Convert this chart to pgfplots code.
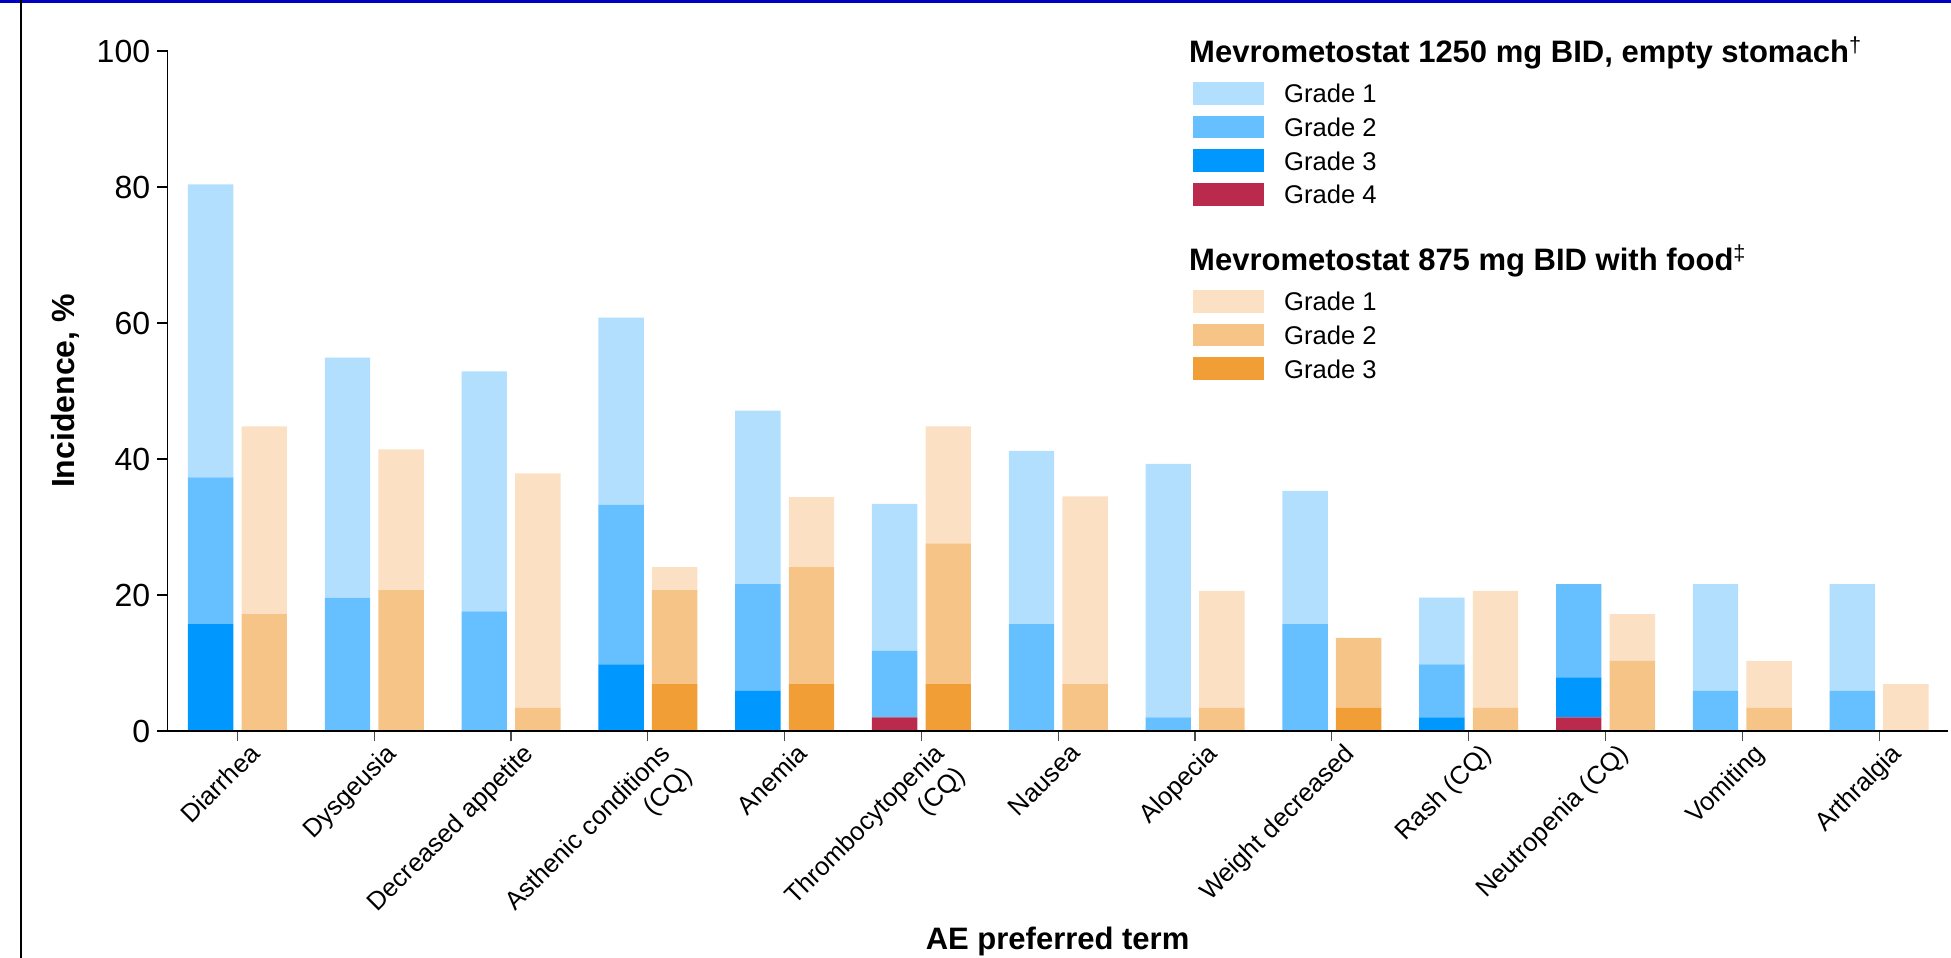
\documentclass[border=0pt]{standalone}
\usepackage{pgfplots}
\pgfplotsset{compat=1.18}
\usepackage{fontspec}
\setmainfont{Liberation Sans}

\definecolor{bA}{RGB}{179,223,255}
\definecolor{bB}{RGB}{102,191,255}
\definecolor{bC}{RGB}{0,151,255}
\definecolor{rD}{RGB}{186,42,77}
\definecolor{oA}{RGB}{251,224,196}
\definecolor{oB}{RGB}{247,196,135}
\definecolor{oC}{RGB}{242,158,54}
\definecolor{frameblue}{RGB}{0,0,190}

\newcommand{\myxl}{\fontsize{12.8}{15.2}\selectfont}
\newcommand{\mylg}{\fontsize{12.8}{15}\selectfont}
\newcommand{\mylt}{\fontsize{15.5}{18}\selectfont\bfseries}

\pgfplotsset{
  bluebar/.style={draw=none, bar width=22.7pt, bar shift=-13.4pt},
  orangebar/.style={draw=none, bar width=22.7pt, bar shift=13.4pt},
  base/.style={
    at={(83.85pt,113.5pt)}, anchor=south west,
    scale only axis, width=889.9pt, height=340pt,
    xmin=-0.51, xmax=12.5, ymin=0, ymax=100,
    ybar stacked,
  },
}

\tikzset{xlab/.style={rotate=45, anchor=north east, inner sep=0pt, align=right, font=\myxl}}

\begin{document}
\begin{tikzpicture}
% orange group (hidden axis)
\begin{axis}[base, hide axis]
\addplot[orangebar, fill=oC] coordinates {(0,0) (1,0) (2,0) (3,6.9) (4,6.9) (5,6.9) (6,0) (7,0) (8,3.4) (9,0) (10,0) (11,0) (12,0)};
\addplot[orangebar, fill=oB] coordinates {(0,17.2) (1,20.7) (2,3.4) (3,13.8) (4,17.2) (5,20.7) (6,6.9) (7,3.4) (8,10.3) (9,3.4) (10,10.3) (11,3.4) (12,0)};
\addplot[orangebar, fill=oA] coordinates {(0,27.6) (1,20.7) (2,34.5) (3,3.4) (4,10.3) (5,17.2) (6,27.6) (7,17.2) (8,0) (9,17.2) (10,6.9) (11,6.9) (12,6.9)};
\end{axis}
% blue group with axes
\begin{axis}[base,
  axis on top,
  axis lines=left,
  axis line style={-, line width=0.6pt, black},
  tick align=outside,
  major tick length=5.25pt,
  xtick={0,1,...,12},
  xticklabels={{},{},{},{},{},{},{},{},{},{},{},{},{}},
  ytick={0,20,40,60,80,100},
  xtick style={black!70, line width=0.6pt},
  ytick style={black, line width=0.6pt},
  /pgf/number format/assume math mode=true,
  yticklabel style={font=\fontsize{16}{19}\selectfont},
  xlabel={AE preferred term},
  ylabel={Incidence, \%},
  every axis x label/.style={at={(axis description cs:0.5,0)}, anchor=base, yshift=-109.5pt,
     font=\fontsize{15.5}{18}\selectfont\bfseries},
  every axis y label/.style={at={(axis description cs:-0.0523,0.5)}, rotate=90, anchor=base,
     font=\fontsize{16}{19}\selectfont\bfseries},
  clip=false]
\addplot[bluebar, fill=rD] coordinates {(0,0) (1,0) (2,0) (3,0) (4,0) (5,2.0) (6,0) (7,0) (8,0) (9,0) (10,2.0) (11,0) (12,0)};
\addplot[bluebar, fill=bC] coordinates {(0,15.7) (1,0) (2,0) (3,9.8) (4,5.9) (5,0) (6,0) (7,0) (8,0) (9,2.0) (10,5.9) (11,0) (12,0)};
\addplot[bluebar, fill=bB] coordinates {(0,21.6) (1,19.6) (2,17.6) (3,23.5) (4,15.7) (5,9.8) (6,15.7) (7,2.0) (8,15.7) (9,7.8) (10,13.7) (11,5.9) (12,5.9)};
\addplot[bluebar, fill=bA] coordinates {(0,43.1) (1,35.3) (2,35.3) (3,27.5) (4,25.5) (5,21.6) (6,25.5) (7,37.3) (8,19.6) (9,9.8) (10,0) (11,15.7) (12,15.7)};
% category labels
\path (axis cs:0,0) ++(5.3pt,-5.4pt) node[xlab] {\myxl Diarrhea};
\path (axis cs:1,0) ++(5.3pt,-5.4pt) node[xlab] {\myxl Dysgeusia};
\path (axis cs:2,0) ++(5.3pt,-5.4pt) node[xlab] {\myxl Decreased appetite};
\path (axis cs:3,0) ++(5.3pt,-5.4pt) node[xlab] {\myxl Asthenic conditions\\\myxl (CQ)};
\path (axis cs:4,0) ++(5.3pt,-5.4pt) node[xlab] {\myxl Anemia};
\path (axis cs:5,0) ++(5.3pt,-5.4pt) node[xlab] {\myxl Thrombocytopenia\\\myxl (CQ)};
\path (axis cs:6,0) ++(5.3pt,-5.4pt) node[xlab] {\myxl Nausea};
\path (axis cs:7,0) ++(5.3pt,-5.4pt) node[xlab] {\myxl Alopecia};
\path (axis cs:8,0) ++(5.3pt,-5.4pt) node[xlab] {\myxl Weight decreased};
\path (axis cs:9,0) ++(5.3pt,-5.4pt) node[xlab] {\myxl Rash (CQ)};
\path (axis cs:10,0) ++(5.3pt,-5.4pt) node[xlab] {\myxl Neutropenia (CQ)};
\path (axis cs:11,0) ++(5.3pt,-5.4pt) node[xlab] {\myxl Vomiting};
\path (axis cs:12,0) ++(5.3pt,-5.4pt) node[xlab] {\myxl Arthralgia};
\end{axis}
% legend: 1250 mg group
\node[anchor=base west, inner sep=0pt] at (594.4pt,447.65pt) {\mylt Mevrometostat 1250 mg BID, empty stomach\textsuperscript{\mdseries †}};
\fill[bA] (596.35pt,426.65pt) rectangle (632pt,438pt);
\fill[bB] (596.35pt,409.8pt) rectangle (632pt,421.15pt);
\fill[bC] (596.35pt,392.95pt) rectangle (632pt,404.3pt);
\fill[rD] (596.35pt,376.1pt) rectangle (632pt,387.45pt);
\node[anchor=base west, inner sep=0pt] at (641.9pt,427.65pt) {\mylg Grade 1};
\node[anchor=base west, inner sep=0pt] at (641.9pt,410.8pt) {\mylg Grade 2};
\node[anchor=base west, inner sep=0pt] at (641.9pt,393.95pt) {\mylg Grade 3};
\node[anchor=base west, inner sep=0pt] at (641.9pt,377.1pt) {\mylg Grade 4};
% legend: 875 mg group
\node[anchor=base west, inner sep=0pt] at (594.4pt,343.65pt) {\mylt Mevrometostat 875 mg BID with food\textsuperscript{\mdseries ‡}};
\fill[oA] (596.35pt,322.65pt) rectangle (632pt,334pt);
\fill[oB] (596.35pt,305.8pt) rectangle (632pt,317.15pt);
\fill[oC] (596.35pt,288.95pt) rectangle (632pt,300.3pt);
\node[anchor=base west, inner sep=0pt] at (641.9pt,323.65pt) {\mylg Grade 1};
\node[anchor=base west, inner sep=0pt] at (641.9pt,306.8pt) {\mylg Grade 2};
\node[anchor=base west, inner sep=0pt] at (641.9pt,289.95pt) {\mylg Grade 3};
% slide frame
\fill[frameblue] (0pt,477.65pt) rectangle (975.5pt,479pt);
\draw[black, line width=0.65pt] (10.5pt,0pt) -- (10.5pt,479pt);
\pgfresetboundingbox
\useasboundingbox (0pt,0pt) rectangle (975.5pt,479pt);
\end{tikzpicture}
\end{document}
